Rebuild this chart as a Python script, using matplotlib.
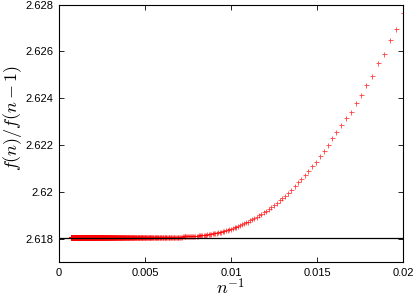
import numpy as np
import matplotlib
matplotlib.use("Agg")
import matplotlib.pyplot as plt

plt.rcParams['mathtext.fontset'] = 'cm'
plt.rcParams['font.family'] = ['Liberation Sans', 'DejaVu Sans']

# ratio f(n)/f(n-1), starting at n = 50
n_first = 50
ratio_near = [
    2.62763, 2.62695, 2.62649, 2.62590, 2.62549, 2.62495, 2.62458, 2.62413,
    2.62380, 2.62342, 2.62315, 2.62285, 2.62255, 2.62228, 2.62202, 2.62176,
    2.62151, 2.62128, 2.62109, 2.62089, 2.62071, 2.62053, 2.62040, 2.62023,
    2.62009, 2.61996, 2.61983, 2.61972, 2.61963, 2.61952, 2.61943, 2.61935,
    2.61927, 2.61919, 2.61912, 2.61905, 2.61899, 2.61893, 2.61888, 2.61883,
    2.61878, 2.61873, 2.61869, 2.61865, 2.61861, 2.61858, 2.61854, 2.61851,
    2.61848, 2.61845, 2.61843, 2.61840, 2.61838, 2.61836, 2.61834, 2.61832,
    2.61830, 2.61829, 2.61827, 2.61826, 2.61824, 2.61823, 2.61822, 2.61821,
    2.61820, 2.61819, 2.61818, 2.61817, 2.61817, 2.61816, 2.61815, 2.61815,
    2.61814, 2.61814, 2.61813, 2.61813, 2.61812, 2.61812, 2.61812, 2.61811,
    2.61811, 2.61811, 2.61810, 2.61810, 2.61810, 2.61810, 2.61809, 2.61809,
    2.61809, 2.61809, 2.61808,
]
# beyond that the points sit on the limit line
n_last = 1400
ratio_tail = 2.61805
limit = 2.618034

xticks = [0, 0.005, 0.01, 0.015, 0.02]
xtick_labels = ['0', '0.005', '0.01', '0.015', '0.02']
yticks = [2.618, 2.62, 2.622, 2.624, 2.626, 2.628]
ytick_labels = ['2.618', '2.62', '2.622', '2.624', '2.626', '2.628']

n_near = np.arange(n_first, n_first + len(ratio_near))
n_tail = np.arange(n_near[-1] + 1, n_last + 1)
n_all = np.concatenate([n_near, n_tail])
ratio_all = np.concatenate([ratio_near, np.full(len(n_tail), ratio_tail)])

fig = plt.figure(figsize=(4.14, 3.0), dpi=100)
ax = fig.add_axes([0.1425, 0.1267, 0.8309, 0.8577])

ax.plot(1.0 / n_all, ratio_all, linestyle='none', marker='+', color='#ff0000',
        markersize=3.6, markeredgewidth=0.6, alpha=0.75, zorder=2, clip_on=True)
ax.axhline(limit, color='black', lw=0.9, zorder=3)

ax.set_xlim(0, 0.02)
ax.set_ylim(2.617, 2.628)
ax.set_xticks(xticks)
ax.set_xticklabels(xtick_labels)
ax.set_yticks(yticks)
ax.set_yticklabels(ytick_labels)
ax.tick_params(direction='in', length=3.5, width=0.6, labelsize=8,
               top=True, right=True, pad=4)
for s in ax.spines.values():
    s.set_linewidth(0.8)

ax.set_xlabel(r'$n^{-1}$', fontsize=13, labelpad=0)
ax.set_ylabel(r'$f(n)/f(n-1)$', fontsize=13)
ax.yaxis.set_label_coords(-0.102, 0.56)

fig.savefig('out.png', dpi=100)
